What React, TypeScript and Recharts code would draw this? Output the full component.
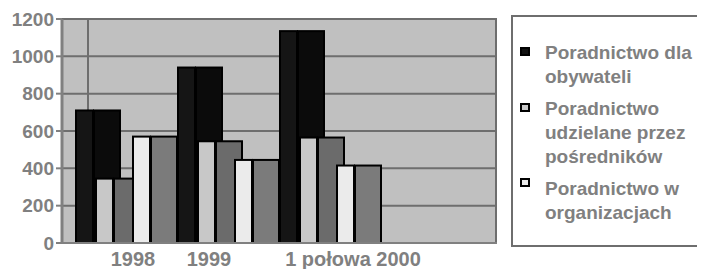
import React from 'react';
import { BarChart, Bar, XAxis, YAxis, CartesianGrid } from 'recharts';

// values (1998, 1999, first half of 2000)
const categories = ['1998', '1999', '1 połowa 2000'];
const obywatele = [710, 940, 1135];
const posrednicy = [345, 545, 565];
const organizacje = [570, 445, 415];
const seriesNames = [
  'Poradnictwo dla obywateli',
  'Poradnictwo udzielane przez pośredników',
  'Poradnictwo w organizacjach',
];
const yTicks = [0, 200, 400, 600, 800, 1000, 1200];

const data = categories.map((c, i) => ({
  cat: c,
  s1: obywatele[i],
  s2: posrednicy[i],
  s3: organizacje[i],
}));

const GREY = '#808080';
const FONT = '"Liberation Sans", Arial, sans-serif';

// front / side colours of the pseudo 3D columns
const faces = [
  { front: '#151515', side: '#0b0b0b', legend: '#111111', shift: -6 },
  { front: '#c8c8c8', side: '#6b6b6b', legend: '#c8c8c8', shift: -16 },
  { front: '#ebebeb', side: '#7b7b7b', legend: '#ebebeb', shift: -9 },
];

const makeShape = (k: number) => (props: any) => {
  const { x, y, height } = props;
  const f = faces[k];
  const x0 = x + f.shift;
  return (
    <g>
      <rect x={x0 + 1} y={y} width={17} height={height} fill={f.front} stroke="#000" strokeWidth={2} />
      <rect x={x0 + 19} y={y} width={26} height={height} fill={f.side} stroke="#000" strokeWidth={2} />
    </g>
  );
};

const tickShift = [7, -19, 23];

const XTick = (props: any) => {
  const { x, y, payload, index } = props;
  return (
    <text
      x={x + tickShift[index]}
      y={y + 15}
      textAnchor="middle"
      fill={GREY}
      fontSize={20}
      fontWeight="bold"
      fontFamily={FONT}
    >
      {payload.value}
    </text>
  );
};

export default function App() {
  return (
    <div style={{ position: 'relative', width: 705, height: 269, margin: '-8px 0 0 -8px', background: '#fff', fontFamily: FONT }}>
      <BarChart
        width={705}
        height={269}
        data={data}
        margin={{ top: 19, right: 208, bottom: 0, left: 0 }}
        barSize={30}
        barGap={0}
      >
        <CartesianGrid
          fill="#c0c0c0"
          fillOpacity={1}
          stroke="#6e6e6e"
          strokeWidth={2}
          verticalCoordinatesGenerator={({ offset }: any) => [offset.left + 26, offset.left + offset.width - 1]}
        />
        <XAxis
          dataKey="cat"
          height={26}
          padding={{ left: 13, right: 116 }}
          axisLine={{ stroke: GREY, strokeWidth: 2 }}
          tickLine={false}
          tick={<XTick />}
          interval={0}
        />
        <YAxis
          width={62}
          domain={[0, 1200]}
          ticks={yTicks}
          interval={0}
          axisLine={{ stroke: GREY, strokeWidth: 3 }}
          tickLine={{ stroke: GREY, strokeWidth: 2 }}
          tickSize={6}
          tickMargin={2}
          tick={{ fill: GREY, fontSize: 19, fontWeight: 'bold', fontFamily: FONT }}
        />
        <Bar dataKey="s1" name={seriesNames[0]} shape={makeShape(0)} isAnimationActive={false} />
        <Bar dataKey="s2" name={seriesNames[1]} shape={makeShape(1)} isAnimationActive={false} />
        <Bar dataKey="s3" name={seriesNames[2]} shape={makeShape(2)} isAnimationActive={false} />
      </BarChart>
      <div
        style={{
          position: 'absolute',
          left: 511,
          top: 15,
          width: 192,
          height: 232,
          boxSizing: 'border-box',
          border: '2px solid #6e6e6e',
          background: '#fff',
          paddingTop: 24,
          display: 'flex',
          flexDirection: 'column',
          gap: 8,
        }}
      >
        {seriesNames.map((name, i) => (
          <div key={name} style={{ position: 'relative', paddingLeft: 32, width: 155, lineHeight: '24px', fontSize: 19, fontWeight: 'bold', color: GREY }}>
            <span
              style={{
                position: 'absolute',
                left: 7,
                top: i === 2 ? 1 : 6,
                width: 10,
                height: 9,
                boxSizing: 'border-box',
                border: '2px solid #000',
                background: faces[i].legend,
              }}
            />
            {name}
          </div>
        ))}
      </div>
    </div>
  );
}
